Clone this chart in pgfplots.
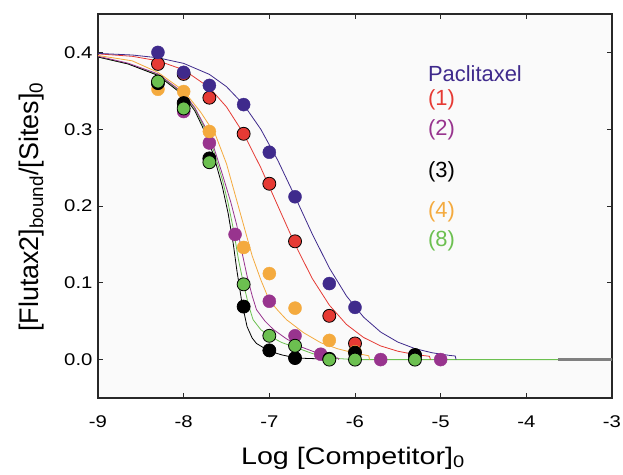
\documentclass[border=0pt]{standalone}
\usepackage{fontspec}
\setmainfont{Liberation Sans}
\newfontfamily\widefont[FakeStretch=1.2]{Liberation Sans}
\usepackage{pgfplots}
\pgfplotsset{compat=1.18}

\definecolor{cPac}{RGB}{63,42,140}
\definecolor{cOne}{RGB}{230,58,52}
\definecolor{cTwo}{RGB}{152,52,142}
\definecolor{cFour}{RGB}{244,170,62}
\definecolor{cEight}{RGB}{108,192,80}
\definecolor{cFrame}{RGB}{40,40,40}

\begin{document}
\begin{tikzpicture}
\useasboundingbox (-98bp,-77bp) rectangle (525bp,398bp);
\begin{axis}[
    at={(0,0)}, anchor=south west,
    scale only axis,
    width=514bp, height=384bp,
    xmin=-9, xmax=-3,
    ymin=-0.05, ymax=0.45,
    xtick={-9,-8,...,-3},
    ytick={0,0.1,0.2,0.3,0.4},
    tick align=inside,
    major tick length=5bp,
    axis line style={cFrame, line width=1.1bp},
    every tick/.style={cFrame, line width=1bp},
    axis background/.style={fill=black!2},
    /pgf/number format/assume math mode=true,
    ticklabel style={font=\widefont\fontsize{17}{17}\selectfont},
    xticklabel style={yshift=-14bp},
    yticklabel style={xshift=-2bp, /pgf/number format/.cd, fixed, fixed zerofill, precision=1},
    xlabel={Log [Competitor]\textsubscript{0}},
    ylabel={[Flutax2]\textsubscript{bound}/[Sites]\textsubscript{0}},
    xlabel style={font=\widefont\fontsize{24}{24}\selectfont,
        at={(axis description cs:0.496,-0.172)}, anchor=base},
    ylabel style={font=\fontsize{27}{27}\selectfont,
        at={(axis description cs:-0.1167,0.497)}, anchor=base},
    clip=true,
]
% fitted curves
\addplot[cEight, line width=0.8bp] coordinates {
(-9.0,0.394) (-8.65,0.385) (-8.3,0.371) (-8.0,0.346) (-7.87,0.327) (-7.75,0.300)
(-7.65,0.272) (-7.55,0.235) (-7.48,0.203) (-7.42,0.170) (-7.36,0.130) (-7.30,0.098)
(-7.24,0.070) (-7.19,0.052) (-7.10,0.039) (-6.99,0.030) (-6.85,0.022) (-6.72,0.017)
(-6.5,0.008) (-6.29,0.002) (-6.0,0.0) (-3.0,0.0)};
\addplot[black, line width=0.8bp] coordinates {
(-9.0,0.394) (-8.65,0.385) (-8.3,0.370) (-8.0,0.344) (-7.87,0.324) (-7.75,0.296)
(-7.65,0.266) (-7.55,0.226) (-7.48,0.190) (-7.42,0.150) (-7.38,0.117) (-7.32,0.074)
(-7.26,0.043) (-7.20,0.028) (-7.15,0.021) (-7.0,0.011) (-6.85,0.006) (-6.68,0.002)
(-6.42,0.001) (-6.41,0.0)};
\addplot[cTwo, line width=0.8bp] coordinates {
(-9.0,0.395) (-8.65,0.386) (-8.3,0.372) (-8.0,0.347) (-7.87,0.328) (-7.75,0.303)
(-7.65,0.277) (-7.55,0.242) (-7.45,0.205) (-7.38,0.175) (-7.32,0.140) (-7.26,0.109)
(-7.20,0.083) (-7.15,0.065) (-7.05,0.050) (-6.95,0.039) (-6.8,0.027) (-6.64,0.017)
(-6.45,0.009) (-6.29,0.004) (-6.2,0.002) (-6.19,0.0)};
\addplot[cFour, line width=0.8bp] coordinates {
(-9.0,0.396) (-8.6,0.389) (-8.3,0.374) (-8.0,0.350) (-7.8,0.322) (-7.63,0.293)
(-7.5,0.255) (-7.4,0.215) (-7.3,0.175) (-7.2,0.135) (-7.1,0.104) (-7.0,0.077)
(-6.9,0.064) (-6.8,0.052) (-6.6,0.035) (-6.4,0.022) (-6.2,0.014) (-6.0,0.0085)
(-5.84,0.005) (-5.83,0.0)};
\addplot[cOne, line width=0.8bp] coordinates {
(-9.0,0.3981) (-8.6,0.3949) (-8.3,0.3891) (-8.0,0.3773) (-7.7,0.3542) (-7.5,0.3290)
(-7.3,0.2942) (-7.1,0.2500) (-6.9,0.2000) (-6.7,0.1500) (-6.5,0.1058) (-6.3,0.0710)
(-6.1,0.0458) (-5.9,0.0288) (-5.7,0.0178) (-5.5,0.0109) (-5.3,0.0066) (-5.13,0.0043)
(-5.12,0.0)};
\addplot[cPac, line width=0.8bp] coordinates {
(-9.0,0.3987) (-8.6,0.3966) (-8.3,0.3930) (-8.0,0.3857) (-7.7,0.3714) (-7.5,0.3554)
(-7.3,0.3321) (-7.1,0.3000) (-6.9,0.2592) (-6.7,0.2122) (-6.5,0.1638) (-6.3,0.1194)
(-6.1,0.0829) (-5.9,0.0553) (-5.7,0.0358) (-5.5,0.0228) (-5.3,0.0143) (-5.1,0.0089)
(-4.9,0.0055) (-4.83,0.0047) (-4.82,0.0)};
\addplot[gray, line width=2.5bp] coordinates {(-3.63,0.0) (-3.0,0.0)};
% data points
\addplot[only marks, mark=*, mark size=6.5bp, mark options={draw=black, line width=0.8bp, fill=cOne}] coordinates {
(-8.3,0.385) (-8.0,0.372) (-7.7,0.341) (-7.3,0.294) (-7.0,0.229) (-6.7,0.154)
(-6.3,0.057) (-6.0,0.021) (-5.3,0.005)};
\addplot[only marks, mark=*, mark size=6.5bp, mark options={draw=cPac, fill=cPac}] coordinates {
(-8.3,0.400) (-8.0,0.374) (-7.7,0.357) (-7.3,0.332) (-7.0,0.270) (-6.7,0.212)
(-6.3,0.099) (-6.0,0.068) (-5.3,0.004)};
\addplot[only marks, mark=*, mark size=6.5bp, mark options={draw=cTwo, fill=cTwo}] coordinates {
(-8.3,0.360) (-8.0,0.323) (-7.7,0.282) (-7.4,0.163) (-7.0,0.076) (-6.7,0.031)
(-6.4,0.007) (-5.7,0.0) (-5.0,0.0)};
\addplot[only marks, mark=*, mark size=6.5bp, mark options={draw=cFour, fill=cFour}] coordinates {
(-8.3,0.352) (-8.0,0.349) (-7.7,0.297) (-7.3,0.146) (-7.0,0.112) (-6.7,0.067)
(-6.3,0.025) (-6.0,0.010)};
\addplot[only marks, mark=*, mark size=6.5bp, mark options={draw=black, line width=0.8bp, fill=black}] coordinates {
(-8.3,0.360) (-8.0,0.334) (-7.7,0.262) (-7.3,0.069) (-7.0,0.012) (-6.7,0.002)
(-6.3,0.001) (-6.0,0.009) (-5.3,0.006)};
\addplot[only marks, mark=*, mark size=6.5bp, mark options={draw=black, line width=0.8bp, fill=cEight}] coordinates {
(-8.3,0.362) (-8.0,0.327) (-7.7,0.257) (-7.3,0.098) (-7.0,0.031) (-6.7,0.018)
(-6.3,0.0) (-6.0,0.0) (-5.3,0.0)};
% legend text
\begin{scope}[every node/.style={anchor=west, inner sep=0pt, font=\fontsize{22}{22}\selectfont}]
\node[text=cPac] at (axis cs:-5.15,0.372) {Paclitaxel};
\node[text=cOne] at (axis cs:-5.15,0.338) {(1)};
\node[text=cTwo] at (axis cs:-5.15,0.299) {(2)};
\node[text=black] at (axis cs:-5.15,0.244) {(3)};
\node[text=cFour] at (axis cs:-5.15,0.192) {(4)};
\node[text=cEight] at (axis cs:-5.15,0.155) {(8)};
\end{scope}
\end{axis}
\end{tikzpicture}
\end{document}
